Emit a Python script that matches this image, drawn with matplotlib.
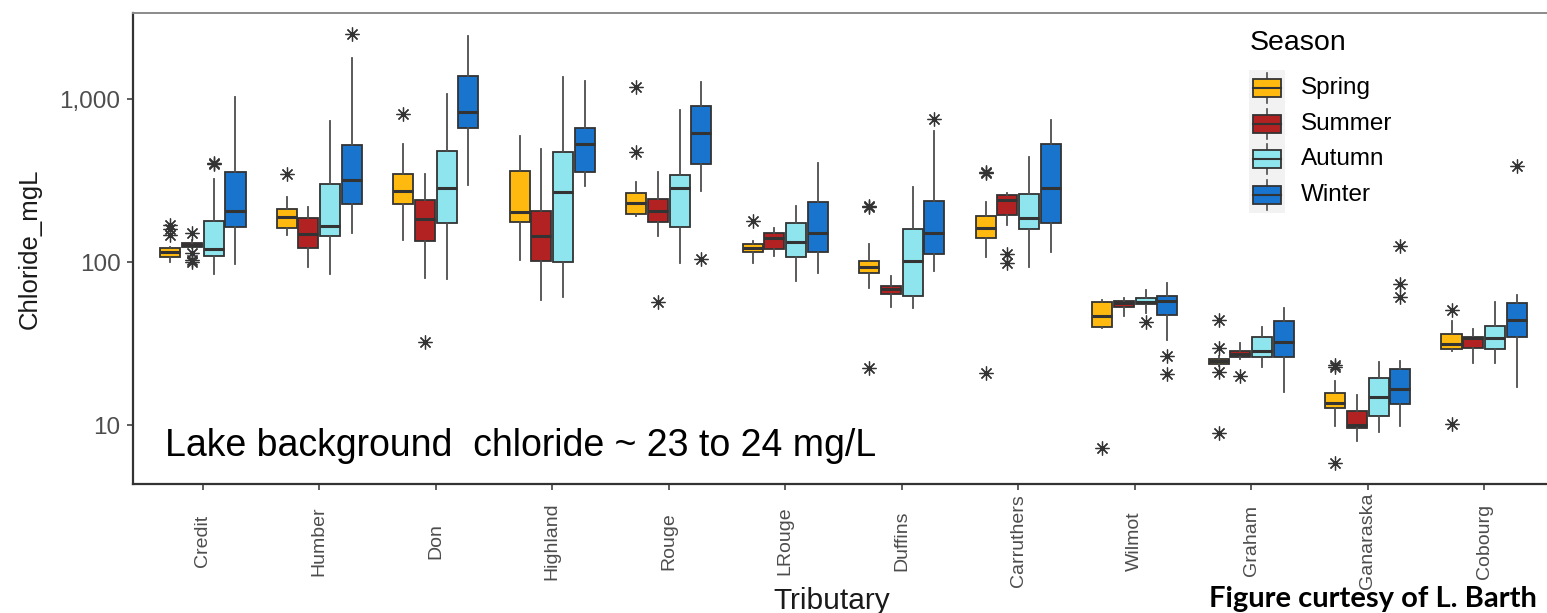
import matplotlib
matplotlib.use("Agg")
import matplotlib.pyplot as plt
from matplotlib.patches import Rectangle
from matplotlib.lines import Line2D
from matplotlib.ticker import NullLocator, FixedLocator

plt.rcParams['font.family'] = ['Liberation Sans', 'DejaVu Sans']

tributaries = ['Credit', 'Humber', 'Don', 'Highland', 'Rouge', 'LRouge', 'Duffins',
               'Carruthers', 'Wilmot', 'Graham', 'Ganaraska', 'Cobourg']
seasons = ['Spring', 'Summer', 'Autumn', 'Winter']
season_colors = ['#FFB90F', '#B22222', '#8EE5EE', '#1874CD']

# ---- Spring ----
spring_med = [115.6, 188, 271.5, 201.8, 230, 122.4, 93.6, 161.7, 46.6, 24.7, 13.7, 31.3]
spring_q1 = [107.8, 162.4, 227, 175.2, 197, 114.7, 85.2, 141, 39.9, 23.6, 12.66, 29.3]
spring_q3 = [122.4, 211.5, 346.6, 363, 264, 128.9, 101.8, 192.3, 56.6, 25.6, 15.65, 36]
spring_lo = [99.5, 146.5, 136.4, 102.9, 191.5, 98.2, 69.2, 106.9, 39.2, 23.0, 9.86, 28.4]
spring_hi = [124, 249.5, 529, 593, 310.9, 135.1, 128.4, 234.4, 58.5, 26.5, 18.6, 43.5]
spring_out = [[168.6, 159.4, 146.5], [345], [812], [], [1180, 475], [178.6],
              [218.5, 222, 22.3], [355, 350, 20.9], [7.19], [44.1, 29.6, 21.2, 8.97],
              [22.8, 23.2, 5.82], [50.8, 10.1]]

# ---- Summer ----
summer_med = [127.2, 148.5, 182.8, 144.4, 206.4, 140.4, 68, 240.2, 55.8, 27.1, 10.0, 34]
summer_q1 = [124.2, 121.3, 134, 101.4, 176, 119.6, 63.4, 194.2, 53.2, 26.2, 9.55, 29.6]
summer_q3 = [130.2, 185.4, 239, 206.4, 242.5, 151.3, 71.5, 256.6, 57.9, 28.4, 12.24, 34.8]
summer_lo = [122, 93.6, 80.1, 58.5, 144.4, 108.9, 53.2, 168.6, 46.6, 25.6, 8.0, 24.1]
summer_hi = [136.4, 216.6, 346.6, 491, 358, 162.4, 82, 264, 59.9, 31.7, 15.3, 38.7]
summer_out = [[151.3, 113, 103, 99.6], [], [32.2], [], [56.6], [], [], [112.5, 99],
              [], [20.1], [], []]

# ---- Autumn ----
autumn_med = [120.7, 167, 283, 267.7, 285.6, 132.6, 101.4, 187, 56.8, 28.6, 14.9, 34.3]
autumn_q1 = [108.9, 145, 174.2, 100.4, 163.3, 107.8, 61.8, 158.8, 55, 26.2, 11.4, 29.2]
autumn_q3 = [178.6, 301, 477.6, 475, 342, 174.2, 158.8, 260.2, 59.9, 34.5, 19.5, 40.6]
autumn_lo = [84.4, 84.4, 79, 60.8, 98.2, 76.8, 52, 93.6, 48.9, 22.8, 9.1, 24.1]
autumn_hi = [323, 736, 1069, 1370, 856, 221.5, 289.7, 440.8, 67.3, 40.1, 24.3, 56.6]
autumn_out = [[397, 405], [], [], [], [], [], [], [], [42.7], [], [], []]

# ---- Winter ----
winter_med = [206.4, 317, 829, 532, 621, 150, 151.3, 285.6, 57.6, 32.4, 16.6, 44.1]
winter_q1 = [164.7, 226, 667, 356.7, 401, 114.7, 112.5, 174.2, 47.3, 26, 13.4, 34.8]
winter_q3 = [355, 522, 1384, 667, 906, 234.4, 237.7, 532, 61.8, 43.5, 22, 55.8]
winter_lo = [97.2, 149.9, 297, 294, 272.6, 86, 88.5, 115.6, 33.2, 16, 9.86, 17.2]
winter_hi = [1024, 1778, 2435, 1289, 1266, 403, 636, 743, 74, 52.4, 24.7, 62.7]
winter_out = [[], [2516], [], [], [104], [], [750.6], [], [26.6, 20.5], [],
              [125.3, 73, 61.2], [390]]

y_ticks = [10, 100, 1000]
y_ticklabels = ['10', '100', '1,000']

season_stats = [
    (spring_med, spring_q1, spring_q3, spring_lo, spring_hi, spring_out),
    (summer_med, summer_q1, summer_q3, summer_lo, summer_hi, summer_out),
    (autumn_med, autumn_q1, autumn_q3, autumn_lo, autumn_hi, autumn_out),
    (winter_med, winter_q1, winter_q3, winter_lo, winter_hi, winter_out),
]

W, H = 1547, 613
fig = plt.figure(figsize=(W / 100, H / 100), dpi=100)


def fx(x):
    return x / W


def fy(y):
    return 1 - y / H


ax_left, ax_right, ax_top, ax_bottom = 133, 1554, 12.7, 484
ax = fig.add_axes([fx(ax_left), fy(ax_bottom), (ax_right - ax_left) / W,
                   (ax_bottom - ax_top) / H])

dark = '#333333'
offsets = [-0.28, -0.094, 0.094, 0.28]
positions_base = list(range(1, len(tributaries) + 1))

for si, (med, q1, q3, lo, hi, out) in enumerate(season_stats):
    stats = []
    for i in range(len(tributaries)):
        stats.append(dict(med=med[i], q1=q1[i], q3=q3[i], whislo=lo[i],
                          whishi=hi[i], fliers=out[i]))
    pos = [p + offsets[si] for p in positions_base]
    ax.bxp(stats, positions=pos, widths=0.172, patch_artist=True,
           showcaps=False, manage_ticks=False,
           boxprops=dict(facecolor=season_colors[si], edgecolor=dark, linewidth=1.3),
           medianprops=dict(color=dark, linewidth=2.2),
           whiskerprops=dict(color='#4D4D4D', linewidth=1.3),
           flierprops=dict(marker=(8, 2, 0), markersize=10, markeredgecolor=dark,
                           markerfacecolor=dark, markeredgewidth=0.9, linestyle='none'))

ax.set_yscale('log')
ax.set_ylim(4.35, 3385)
ax.set_xlim(0.4, 12.6)
ax.yaxis.set_major_locator(FixedLocator(y_ticks))
ax.set_yticklabels(y_ticklabels)
ax.yaxis.set_minor_locator(NullLocator())
ax.set_xticks(positions_base)
ax.set_xticklabels(tributaries, rotation=90, va='center', ha='center')

ax.tick_params(axis='both', which='major', length=4.5, width=1.1, color=dark,
               labelcolor='#4D4D4D')
ax.tick_params(axis='y', labelsize=17.5, pad=4.5)
ax.tick_params(axis='x', labelsize=14, pad=36.5)

for side in ['left', 'bottom']:
    ax.spines[side].set_color(dark)
    ax.spines[side].set_linewidth(1.6)
ax.spines['top'].set_color('#8A8A8A')
ax.spines['top'].set_linewidth(1.4)
ax.spines['right'].set_color('#8A8A8A')

ax.set_ylabel('Chloride_mgL', fontsize=18.5, color='#1A1A1A', va='center', ha='center')
ax.yaxis.set_label_coords((30 - ax_left) / (ax_right - ax_left), 0.5)
ax.set_xlabel('Tributary', fontsize=21.5, color='#1A1A1A', va='center', ha='center')
ax.xaxis.set_label_coords((832 - ax_left) / (ax_right - ax_left),
                          (ax_bottom - 601) / (ax_bottom - ax_top))

# annotation
fig.text(fx(165), fy(456), 'Lake background  chloride ~ 23 to 24 mg/L',
         fontsize=27, color='black', ha='left', va='baseline')

# legend (drawn in figure pixel space)
fig.text(fx(1250), fy(43), 'Season', fontsize=20.5, color='black', ha='left', va='center')
fig.patches.append(Rectangle((fx(1249), fy(213)), (1285 - 1249) / W, (213 - 70) / H,
                             transform=fig.transFigure, facecolor='#F2F2F2',
                             edgecolor='none', zorder=1))
for i, (name, col) in enumerate(zip(seasons, season_colors)):
    yc = 88 + 35.7 * i
    fig.lines.append(Line2D([fx(1267), fx(1267)], [fy(yc - 15), fy(yc + 15)],
                            transform=fig.transFigure, color='#4D4D4D', lw=1.2, zorder=2))
    fig.patches.append(Rectangle((fx(1253), fy(yc + 9)), 28 / W, 18 / H,
                                 transform=fig.transFigure, facecolor=col,
                                 edgecolor=dark, lw=1.3, zorder=3))
    fig.lines.append(Line2D([fx(1253), fx(1281)], [fy(yc), fy(yc)],
                            transform=fig.transFigure, color=dark, lw=1.5, zorder=4))
    fig.text(fx(1301), fy(yc), name, fontsize=17.5, color='black', ha='left', va='center')

fig.text(fx(1537), fy(607), 'Figure curtesy of L. Barth', fontsize=21,
         fontweight='bold', family=['Lato', 'DejaVu Sans'], color='black',
         ha='right', va='baseline')

fig.savefig('out.png', dpi=100)
